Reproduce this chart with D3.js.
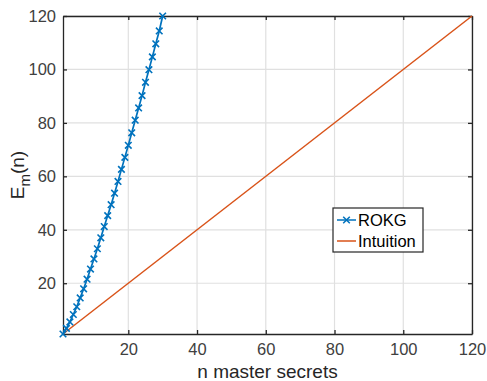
<!DOCTYPE html>
<html>
<head>
<meta charset="utf-8">
<script src="https://cdn.jsdelivr.net/npm/d3@7"></script>
<style>
  body { margin: 0; background: #fff; }
  text { font-family: "Liberation Sans", Arial, sans-serif; }
</style>
</head>
<body>
<svg width="487" height="381"></svg>
<script>
// ROKG: expected value per number of master secrets
var rokgN = [1, 2, 3, 4, 5, 6, 7, 8, 9, 10, 11, 12, 13, 14, 15,
             16, 17, 18, 19, 20, 21, 22, 23, 24, 25, 26, 27, 28, 29, 30];
var rokgE = [1, 3.1, 5.5, 8.3, 11.2, 14.5, 17.9, 21.5, 25.3, 29.1, 32.9, 37.0, 41.2, 45.3, 49.4,
             53.7, 58.1, 62.6, 67.1, 71.6, 76.3, 81.0, 85.6, 90.2, 95.2, 99.9, 104.7, 109.6, 114.4, 120];
// Intuition: straight line E = n
var intuitionN = [1, 120];
var intuitionE = [1, 120];

var xTicks = [20, 40, 60, 80, 100, 120];
var yTicks = [20, 40, 60, 80, 100, 120];
var seriesNames = ["ROKG", "Intuition"];

var svg = d3.select("svg"),
    margin = { top: 16, right: 15, bottom: 47, left: 63 },
    width = svg.attr("width") - margin.left - margin.right,
    height = svg.attr("height") - margin.top - margin.bottom,
    g = svg.append("g").attr("transform", "translate(" + margin.left + "," + margin.top + ")");

var axisColor = "#262626";
var blue = "#0072BD", orange = "#D95319";

var x = d3.scaleLinear().domain([1, 120]).range([0, width]),
    y = d3.scaleLinear().domain([1, 120]).range([height, 0]);

// grid
g.append("g").selectAll("line.gx")
    .data(xTicks).enter().append("line")
    .attr("x1", function(d) { return x(d); })
    .attr("x2", function(d) { return x(d); })
    .attr("y1", 0).attr("y2", height)
    .attr("stroke", "#e0e0e0").attr("stroke-width", 1.2);
g.append("g").selectAll("line.gy")
    .data(yTicks).enter().append("line")
    .attr("y1", function(d) { return y(d); })
    .attr("y2", function(d) { return y(d); })
    .attr("x1", 0).attr("x2", width)
    .attr("stroke", "#e0e0e0").attr("stroke-width", 1.2);

// axes (ticks inward, box on)
function styleAxis(sel) {
    sel.select(".domain").attr("stroke", axisColor).attr("stroke-width", 1.3);
    sel.selectAll(".tick line").attr("stroke", axisColor).attr("stroke-width", 1.3);
    sel.selectAll(".tick text").attr("fill", "#404040").style("font-size", "16.5px");
}

g.append("g")
    .attr("transform", "translate(0," + height + ")")
    .call(d3.axisBottom(x).tickValues(xTicks).tickSize(-4).tickPadding(9).tickSizeOuter(0))
    .call(styleAxis);
g.append("g")
    .call(d3.axisTop(x).tickValues(xTicks).tickSize(-4).tickFormat("").tickSizeOuter(0))
    .call(styleAxis);
g.append("g")
    .call(d3.axisLeft(y).tickValues(yTicks).tickSize(-4).tickPadding(7).tickSizeOuter(0))
    .call(styleAxis);
g.append("g")
    .attr("transform", "translate(" + width + ",0)")
    .call(d3.axisRight(y).tickValues(yTicks).tickSize(-4).tickFormat("").tickSizeOuter(0))
    .call(styleAxis);

// axis labels
svg.append("text")
    .attr("x", margin.left + width / 2)
    .attr("y", 378)
    .attr("text-anchor", "middle")
    .attr("fill", "#262626")
    .style("font-size", "19px")
    .text("n master secrets");

var yl = svg.append("text")
    .attr("transform", "translate(24," + (margin.top + height / 2) + ") rotate(-90)")
    .attr("text-anchor", "middle")
    .attr("fill", "#262626")
    .style("font-size", "19px");
yl.append("tspan").text("E");
yl.append("tspan").attr("dy", 6).style("font-size", "15px").text("m");
yl.append("tspan").attr("dy", -6).text("(n)");

// lines
var line = d3.line()
    .x(function(d) { return x(d[0]); })
    .y(function(d) { return y(d[1]); });

var intuitionPts = d3.zip(intuitionN, intuitionE);
var rokgPts = d3.zip(rokgN, rokgE);

g.append("path")
    .attr("d", line(intuitionPts))
    .attr("fill", "none")
    .attr("stroke", orange)
    .attr("stroke-width", 1.5);

g.append("path")
    .attr("d", line(rokgPts))
    .attr("fill", "none")
    .attr("stroke", blue)
    .attr("stroke-width", 1.7);

var cross = d3.symbol().type(d3.symbolX).size(30);
g.selectAll(".mk")
    .data(rokgPts).enter().append("path")
    .attr("class", "mk")
    .attr("transform", function(d) { return "translate(" + x(d[0]) + "," + y(d[1]) + ")"; })
    .attr("d", cross)
    .attr("fill", "none")
    .attr("stroke", blue)
    .attr("stroke-width", 1.6);

// legend
var lg = svg.append("g").attr("transform", "translate(333,208)");
lg.append("rect")
    .attr("width", 90).attr("height", 44)
    .attr("fill", "#fff")
    .attr("stroke", axisColor).attr("stroke-width", 1.2);

var colors = [blue, orange];
seriesNames.forEach(function(name, i) {
    var yy = 12 + i * 21;
    lg.append("line")
        .attr("x1", 4).attr("x2", 23)
        .attr("y1", yy).attr("y2", yy)
        .attr("stroke", colors[i]).attr("stroke-width", 1.5);
    if (i === 0) {
        lg.append("path")
            .attr("transform", "translate(13.5," + yy + ")")
            .attr("d", cross)
            .attr("fill", "none")
            .attr("stroke", blue)
            .attr("stroke-width", 1.5);
    }
    lg.append("text")
        .attr("x", 25).attr("y", yy)
        .attr("dy", "0.35em")
        .attr("fill", "#000")
        .style("font-size", "16.5px")
        .text(name);
});
</script>
</body>
</html>
